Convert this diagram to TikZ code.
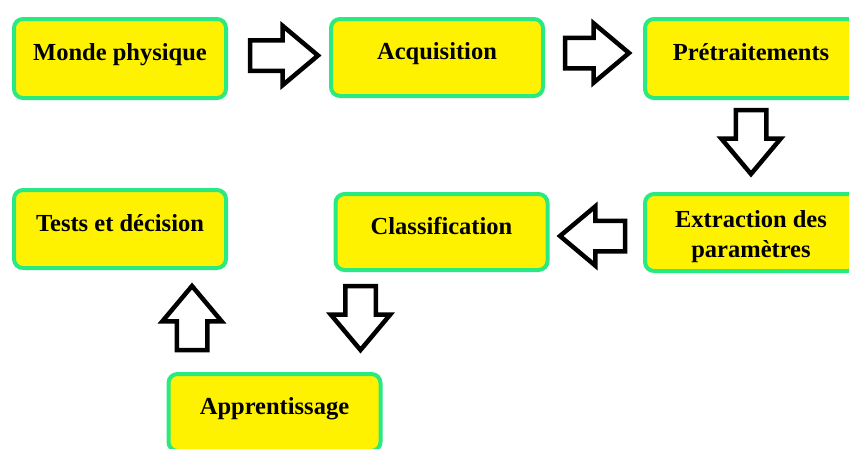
\documentclass[tikz,border=0pt]{standalone}
\usepackage{fontspec}
\setmainfont{Liberation Serif}
\usetikzlibrary{shapes.arrows}
\definecolor{boxgreen}{RGB}{40,234,128}
\definecolor{boxyellow}{RGB}{255,242,0}
\begin{document}
\begin{tikzpicture}[x=1pt,y=-1pt,
  stage/.style={draw=boxgreen, fill=boxyellow, line width=4pt,
    rounded corners=9pt, minimum width=212pt, minimum height=79pt,
    inner sep=0pt, font={\fontsize{24.5}{30}\selectfont\bfseries},
    text height=14pt, text depth=10pt},
  flow/.style={single arrow, draw=black, fill=white, line width=4.5pt,
    minimum height=64pt, inner xsep=0pt, inner ysep=13pt, outer sep=0pt,
    single arrow head extend=14.5pt, single arrow tip angle=80,
    anchor=tail}]
\useasboundingbox (0,0) rectangle (849,448);
\clip (0,0) rectangle (849,448);

% processing stages
\node[stage] (mp) at (120,58.5) {Monde physique};
\node[stage, minimum height=77pt] (acq) at (437,57.5) {Acquisition};
\node[stage] (pre) at (751,58.5) {Prétraitements};
\node[stage, minimum height=77pt, text height=20pt, text depth=31pt] (ext) at (751,232.5)
  {\begin{tabular}[t]{@{}c@{}}Extraction des\\paramètres\end{tabular}};
\node[stage, minimum height=76pt] (cls) at (441.5,232) {Classification};
\node[stage, minimum height=78pt] (tests) at (120,229) {Tests et décision};
\node[stage, minimum height=77pt] (app) at (274.5,412.5) {Apprentissage};

% hollow block arrows between the stages, placed by their tails
\node[flow, minimum height=68pt] (mp-acq) at (250,55.5) {};
\node[flow] (acq-pre) at (565,53) {};
\node[flow, rotate=-90] (pre-ext) at (751,110) {};
\node[flow, rotate=180, minimum height=65pt] (ext-cls) at (625,236) {};
\node[flow, rotate=-90] (cls-app) at (360.5,286) {};
\node[flow, rotate=90] (app-tests) at (192,350) {};
\end{tikzpicture}
\end{document}
